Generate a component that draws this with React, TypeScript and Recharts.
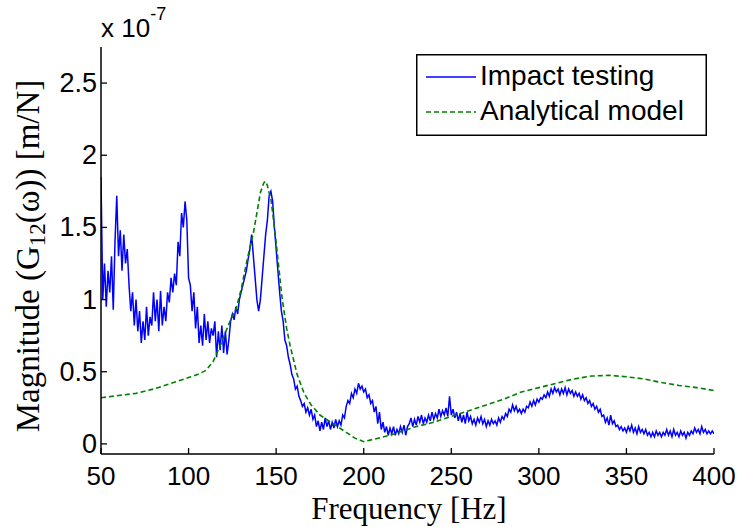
import { LineChart, Line, XAxis, YAxis, Legend } from "recharts";

// frequency grid of the impact test (1 Hz steps, 50..400)
const testHz = Array.from({ length: 351 }, (_, i) => 50 + i);
// magnitude, x 1e-7 m/N
const testMag = [
  1.85, 1.0, 1.25, 0.95, 1.2, 1.05, 1.3, 0.93, 1.4, 1.72,
  1.3, 1.48, 1.2, 1.45, 1.25, 1.35, 1.1, 0.92, 1.05, 0.82,
  1.0, 0.78, 0.92, 0.7, 0.85, 0.72, 0.95, 0.75, 0.88, 0.82,
  1.05, 0.85, 1.0, 0.78, 1.06, 0.82, 0.95, 0.85, 1.05, 0.98,
  1.15, 1.05, 1.18, 1.1, 1.4, 1.3, 1.6, 1.5, 1.68, 1.55,
  1.15, 1.1, 0.92, 1.05, 0.8, 0.95, 0.7, 0.82, 0.68, 0.9,
  0.72, 0.85, 0.7, 0.8, 0.75, 0.85, 0.6, 0.78, 0.65, 0.82,
  0.63, 0.78, 0.62, 0.72, 0.85, 0.9, 0.86, 0.95, 0.9, 1.0,
  1.05, 1.1, 1.15, 1.2, 1.28, 1.35, 1.45, 1.3, 1.15, 1.0,
  0.92, 1.0, 1.15, 1.3, 1.45, 1.55, 1.72, 1.75, 1.68, 1.5,
  1.35, 1.2, 1.05, 0.92, 0.85, 0.72, 0.68, 0.6, 0.55, 0.48,
  0.45, 0.38, 0.4, 0.33, 0.3, 0.26, 0.28, 0.22, 0.25, 0.2,
  0.24, 0.17, 0.2, 0.12, 0.16, 0.09, 0.15, 0.1, 0.18, 0.12,
  0.16, 0.1, 0.15, 0.11, 0.17, 0.12, 0.16, 0.13, 0.2, 0.18,
  0.26, 0.3, 0.28, 0.35, 0.32, 0.38, 0.35, 0.42, 0.38, 0.4,
  0.36, 0.38, 0.32, 0.34, 0.28, 0.3, 0.22, 0.26, 0.14, 0.22,
  0.1, 0.15, 0.08, 0.12, 0.06, 0.11, 0.07, 0.12, 0.06, 0.1,
  0.07, 0.12, 0.08, 0.13, 0.06, 0.12, 0.14, 0.18, 0.12, 0.17,
  0.13, 0.19, 0.15, 0.2, 0.14, 0.18, 0.15, 0.2, 0.16, 0.22,
  0.17, 0.21, 0.18, 0.24, 0.19, 0.23, 0.2, 0.25, 0.19, 0.33,
  0.2, 0.24, 0.18, 0.22, 0.16, 0.21, 0.15, 0.2, 0.14, 0.22,
  0.16, 0.19, 0.14, 0.17, 0.13, 0.18, 0.15, 0.19, 0.14, 0.17,
  0.12, 0.16, 0.13, 0.17, 0.14, 0.16, 0.13, 0.18, 0.15, 0.19,
  0.17, 0.21, 0.19, 0.24, 0.22, 0.27, 0.23, 0.26, 0.22, 0.24,
  0.21, 0.24, 0.22, 0.26, 0.25, 0.29, 0.26, 0.3, 0.27, 0.31,
  0.29, 0.32, 0.31, 0.34, 0.32, 0.36, 0.33, 0.38, 0.35, 0.39,
  0.36, 0.38, 0.34, 0.38, 0.35, 0.39, 0.34, 0.38, 0.35, 0.37,
  0.33, 0.36, 0.33, 0.35, 0.31, 0.34, 0.3, 0.32, 0.28, 0.3,
  0.26, 0.28, 0.24, 0.26, 0.22, 0.24, 0.19, 0.2, 0.15, 0.18,
  0.13, 0.2, 0.14, 0.16, 0.12, 0.13, 0.1, 0.12, 0.09, 0.11,
  0.08, 0.12, 0.09, 0.13, 0.08, 0.11, 0.07, 0.12, 0.08, 0.1,
  0.07, 0.1, 0.06, 0.08, 0.05, 0.08, 0.05, 0.09, 0.06, 0.08,
  0.05, 0.08, 0.06, 0.1, 0.06, 0.09, 0.05, 0.1, 0.06, 0.08,
  0.05, 0.09, 0.06, 0.08, 0.04, 0.08, 0.06, 0.09, 0.07, 0.11,
  0.08, 0.1, 0.07, 0.12, 0.08, 0.1, 0.07, 0.09, 0.07, 0.09,
  0.07,
];

const modelHz = [
  50, 60, 70, 80, 90, 100, 105, 110, 114, 118, 121, 124, 127, 130, 133, 135, 137, 139, 141, 143,
  144, 145, 146, 147, 148, 149, 150, 151, 152, 153, 154, 155, 156, 158, 160, 162, 166, 170, 175, 180,
  185, 190, 195, 200, 205, 210, 215, 220, 230, 240, 250, 260, 270, 280, 290, 300, 310, 320, 330, 340,
  350, 360, 370, 380, 390, 400,
];
const modelMag = [
  0.32, 0.335, 0.35, 0.38, 0.42, 0.46, 0.48, 0.51, 0.57, 0.68, 0.77, 0.86, 0.93, 1.07, 1.25, 1.36, 1.46, 1.6, 1.74, 1.81,
  1.82, 1.79, 1.74, 1.7, 1.6, 1.5, 1.4, 1.28, 1.17, 1.05, 0.96, 0.88, 0.8, 0.68, 0.58, 0.48, 0.35, 0.27, 0.2, 0.16,
  0.12, 0.08, 0.04, 0.015, 0.03, 0.045, 0.06, 0.08, 0.12, 0.15, 0.19, 0.23, 0.27, 0.31, 0.36, 0.39, 0.42, 0.45, 0.47, 0.475,
  0.465, 0.45, 0.425, 0.405, 0.39, 0.37,
];

const xTicks = [50, 100, 150, 200, 250, 300, 350, 400];
const yTicks = [0, 0.5, 1, 1.5, 2, 2.5];
const yTickLabels = ["0", "0.5", "1", "1.5", "2", "2.5"];

const testData = testHz.map((f, i) => ({ f, m: testMag[i] }));
const modelData = modelHz.map((f, i) => ({ f, m: modelMag[i] }));

const SANS = "'Liberation Sans', Arial, sans-serif";
const SERIF = "'Liberation Serif', 'Times New Roman', serif";
const TICK = 6;

// MATLAB style: tick marks point inwards, labels outside
const BottomTick = ({ x, y, payload }: any) => (
  <g>
    <line x1={x} y1={y} x2={x} y2={y - TICK} stroke="#000" strokeWidth={1.3} />
    <text x={x} y={y + 31} textAnchor="middle" fontSize={26} fontFamily={SANS} fill="#000">
      {payload.value}
    </text>
  </g>
);
const TopTick = ({ x, y }: any) => (
  <line x1={x} y1={y} x2={x} y2={y + TICK} stroke="#000" strokeWidth={1.3} />
);
const LeftTick = ({ x, y, payload }: any) => (
  <g>
    <line x1={x} y1={y} x2={x + TICK} y2={y} stroke="#000" strokeWidth={1.3} />
    <text x={x - 4} y={y + 9} textAnchor="end" fontSize={27} fontFamily={SANS} fill="#000">
      {yTickLabels[yTicks.indexOf(payload.value)]}
    </text>
  </g>
);
const RightTick = ({ x, y }: any) => (
  <line x1={x} y1={y} x2={x - TICK} y2={y} stroke="#000" strokeWidth={1.3} />
);

const XLabel = () => (
  <text x={409} y={519} textAnchor="middle" fontSize={31} fontFamily={SERIF} fill="#000">
    Frequency [Hz]
  </text>
);

// y title plus the "x 10^-7" exponent note above the axis
const YLabel = () => (
  <g>
    <text
      transform="translate(39,256) rotate(-90)"
      textAnchor="middle"
      fontSize={33}
      fontFamily={SERIF}
      fill="#000"
    >
      Magnitude (G
      <tspan fontSize={23} dy={6}>12</tspan>
      <tspan dy={-6}>(ω)) [m/N]</tspan>
    </text>
    <text x={101} y={37} fontSize={26} fontFamily={SANS} fill="#000">
      x 10
      <tspan fontSize={18} dy={-17}>-7</tspan>
    </text>
  </g>
);

const LegendBox = () => (
  <svg width={291} height={82} style={{ display: "block" }}>
    <rect x={0.75} y={0.75} width={289.5} height={80.5} fill="#fff" stroke="#000" strokeWidth={1.5} />
    <line x1={10} y1={23} x2={60} y2={23} stroke="#0000ff" strokeWidth={1.5} />
    <text x={64} y={31} fontSize={28} fontFamily={SANS} fill="#000">
      Impact testing
    </text>
    <line x1={10} y1={58} x2={60} y2={58} stroke="#008000" strokeWidth={1.5} strokeDasharray="5 3" />
    <text x={64} y={66} fontSize={28} fontFamily={SANS} fill="#000">
      Analytical model
    </text>
  </svg>
);

export default function App() {
  return (
    <div style={{ position: "absolute", left: 0, top: 0, background: "#fff" }}>
      <LineChart width={741} height={527} margin={{ top: 47, right: 27, left: 21, bottom: 33 }}>
        <XAxis
          xAxisId="b"
          dataKey="f"
          type="number"
          domain={[50, 400]}
          ticks={xTicks}
          height={40}
          tickSize={0}
          tickMargin={0}
          tickLine={false}
          tick={BottomTick}
          axisLine={{ stroke: "#000", strokeWidth: 1.5 }}
          label={<XLabel />}
          allowDataOverflow
        />
        <XAxis
          xAxisId="t"
          orientation="top"
          dataKey="f"
          type="number"
          domain={[50, 400]}
          ticks={xTicks}
          height={0}
          tickSize={0}
          tickMargin={0}
          tickLine={false}
          tick={TopTick}
          axisLine={{ stroke: "#000", strokeWidth: 1.5 }}
          allowDataOverflow
        />
        <YAxis
          yAxisId="l"
          type="number"
          domain={[-0.07, 2.75]}
          ticks={yTicks}
          width={80}
          tickSize={0}
          tickMargin={0}
          tickLine={false}
          tick={LeftTick}
          axisLine={{ stroke: "#000", strokeWidth: 1.5 }}
          label={<YLabel />}
          allowDataOverflow
        />
        <YAxis
          yAxisId="r"
          orientation="right"
          type="number"
          domain={[-0.07, 2.75]}
          ticks={yTicks}
          width={0}
          tickSize={0}
          tickMargin={0}
          tickLine={false}
          tick={RightTick}
          axisLine={{ stroke: "#000", strokeWidth: 1.5 }}
          allowDataOverflow
        />
        <Line
          xAxisId="b"
          yAxisId="l"
          data={testData}
          dataKey="m"
          type="linear"
          stroke="#0000ff"
          strokeWidth={1.5}
          dot={false}
          isAnimationActive={false}
        />
        <Line
          xAxisId="b"
          yAxisId="l"
          data={modelData}
          dataKey="m"
          type="linear"
          stroke="#008000"
          strokeWidth={1.6}
          strokeDasharray="5 3"
          dot={false}
          isAnimationActive={false}
        />
        <Legend
          layout="horizontal"
          verticalAlign="middle"
          align="center"
          wrapperStyle={{ left: 416, top: 54, width: 291, height: 82 }}
          content={LegendBox}
        />
      </LineChart>
    </div>
  );
}
